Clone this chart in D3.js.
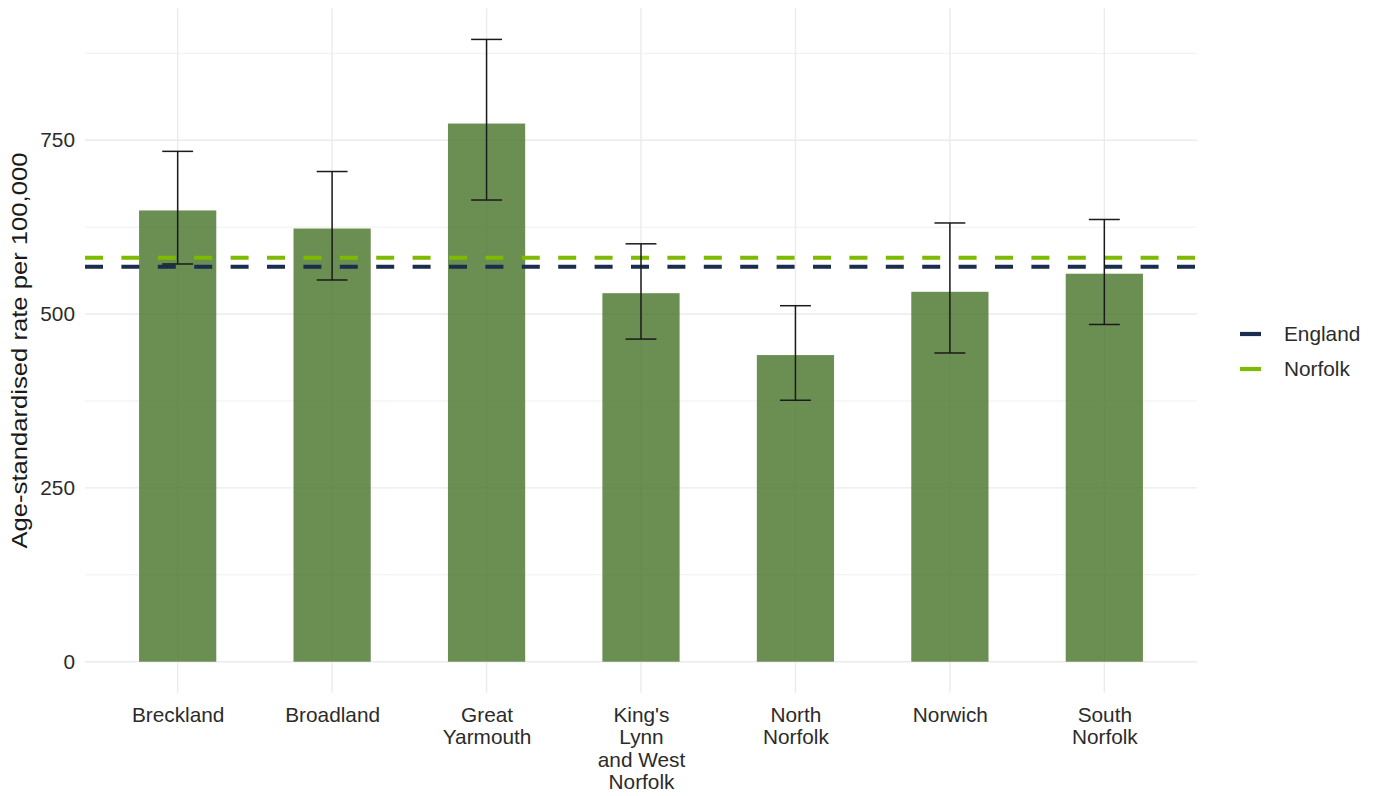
<!DOCTYPE html>
<html>
<head>
<meta charset="utf-8">
<script src="https://cdn.jsdelivr.net/npm/d3@7"></script>
<style>
  html, body { margin: 0; padding: 0; background: #ffffff; }
  svg { display: block; font-family: "Liberation Sans", Arial, sans-serif; }
</style>
</head>
<body>
<svg id="chart" width="1380" height="796"></svg>
<script>
// Local authority districts (tick labels are wrapped onto several lines)
const districts = ["Breckland", "Broadland", "Great Yarmouth", "King's Lynn and West Norfolk",
                   "North Norfolk", "Norwich", "South Norfolk"];
const districtLabels = [["Breckland"], ["Broadland"], ["Great", "Yarmouth"],
                        ["King's", "Lynn", "and West", "Norfolk"], ["North", "Norfolk"],
                        ["Norwich"], ["South", "Norfolk"]];

// Age-standardised rate per 100,000 with 95% confidence limits
const rates = [649, 623, 774, 530, 441, 532, 558];
const lowerCI = [572, 549, 664, 464, 376, 444, 485];
const upperCI = [734, 705, 895, 601, 512, 631, 636];

// Comparator reference lines
const benchmarkNames = ["England", "Norfolk"];
const benchmarkValues = [568, 581];
const benchmarkColours = ["#1b2d4f", "#7dba00"];

const yTicks = [0, 250, 500, 750];
const yMinorTicks = [125, 375, 625, 875];

const svg = d3.select("#chart");
const panel = { left: 85, right: 1197, top: 8.3, bottom: 692.8 };
const textSize = 20.8;
const textColour = "#2b2b2b";

// y: continuous scale with 5% expansion on both sides of the data range
const yHi = d3.max(upperCI), yLo = 0;
const pad = (yHi - yLo) * 0.05;
const y = d3.scaleLinear().domain([yLo - pad, yHi + pad]).range([panel.bottom, panel.top]);

// x: discrete positions with 0.6 step of padding on either end
const x = d3.scalePoint().domain(districts).range([panel.left, panel.right]).padding(0.6);
const step = x.step();
const barW = step * 0.5;
const capW = step * 0.2;

// Grid
const grid = svg.append("g");
grid.selectAll("line.minor").data(yMinorTicks).join("line")
  .attr("x1", panel.left).attr("x2", panel.right)
  .attr("y1", d => y(d)).attr("y2", d => y(d))
  .attr("stroke", "#f0f0f0").attr("stroke-width", 1);
grid.selectAll("line.major").data(yTicks).join("line")
  .attr("x1", panel.left).attr("x2", panel.right)
  .attr("y1", d => y(d)).attr("y2", d => y(d))
  .attr("stroke", "#ebebeb").attr("stroke-width", 1.4);
grid.selectAll("line.vmajor").data(districts).join("line")
  .attr("x1", d => x(d)).attr("x2", d => x(d))
  .attr("y1", panel.top).attr("y2", panel.bottom)
  .attr("stroke", "#ebebeb").attr("stroke-width", 1.4);

// Bars
svg.append("g").selectAll("rect").data(districts).join("rect")
  .attr("x", d => x(d) - barW / 2)
  .attr("width", barW)
  .attr("y", (d, i) => y(rates[i]))
  .attr("height", (d, i) => y(0) - y(rates[i]))
  .attr("fill", "#467327")
  .attr("fill-opacity", 0.8);

// Benchmark lines
svg.append("g").selectAll("line").data(benchmarkValues).join("line")
  .attr("x1", panel.left).attr("x2", panel.right)
  .attr("y1", d => y(d)).attr("y2", d => y(d))
  .attr("stroke", (d, i) => benchmarkColours[i])
  .attr("stroke-width", 4.2)
  .attr("stroke-dasharray", "18 18.4");

// Error bars
const eb = svg.append("g").attr("stroke", "#1a1a1a").attr("stroke-width", 1.5).attr("fill", "none");
districts.forEach((d, i) => {
  const cx = x(d);
  eb.append("line").attr("x1", cx).attr("x2", cx).attr("y1", y(upperCI[i])).attr("y2", y(lowerCI[i]));
  eb.append("line").attr("x1", cx - capW / 2).attr("x2", cx + capW / 2).attr("y1", y(upperCI[i])).attr("y2", y(upperCI[i]));
  eb.append("line").attr("x1", cx - capW / 2).attr("x2", cx + capW / 2).attr("y1", y(lowerCI[i])).attr("y2", y(lowerCI[i]));
});

// Y axis labels
const yAxis = svg.append("g")
  .attr("transform", `translate(${panel.left},0)`)
  .call(d3.axisLeft(y).tickValues(yTicks).tickSize(0).tickPadding(10).tickFormat(d3.format(",")));
yAxis.select(".domain").remove();
yAxis.selectAll("text").attr("font-size", textSize).attr("fill", textColour)
  .attr("font-family", "'Liberation Sans', Arial, sans-serif");

// X axis labels (multi-line)
const xAxis = svg.append("g")
  .attr("transform", `translate(0,${panel.bottom})`)
  .call(d3.axisBottom(x).tickSize(0).tickFormat(""));
xAxis.select(".domain").remove();
xAxis.selectAll(".tick text").remove();
xAxis.selectAll(".tick").each(function (d, i) {
  const t = d3.select(this).append("text")
    .attr("text-anchor", "middle")
    .attr("font-size", textSize)
    .attr("fill", textColour)
    .attr("font-family", "'Liberation Sans', Arial, sans-serif");
  districtLabels[i].forEach((line, k) => {
    t.append("tspan").attr("x", 0).attr("y", 29 + k * 22.4).text(line);
  });
});

// Y axis title
svg.append("text")
  .attr("transform", `translate(${27},${(panel.top + panel.bottom) / 2}) rotate(-90)`)
  .attr("text-anchor", "middle")
  .attr("font-size", 22)
  .attr("textLength", 396)
  .attr("lengthAdjust", "spacingAndGlyphs")
  .attr("fill", "#1a1a1a")
  .text("Age-standardised rate per 100,000");

// Legend
const legend = svg.append("g").attr("transform", "translate(1240,334)");
benchmarkNames.forEach((name, i) => {
  const g = legend.append("g").attr("transform", `translate(0,${i * 35})`);
  g.append("line").attr("x1", 0).attr("x2", 21).attr("y1", 0).attr("y2", 0)
    .attr("stroke", benchmarkColours[i]).attr("stroke-width", 4.2);
  g.append("text").attr("x", 44).attr("y", 0).attr("dy", "0.35em")
    .attr("font-size", textSize).attr("fill", textColour).text(name);
});
</script>
</body>
</html>
